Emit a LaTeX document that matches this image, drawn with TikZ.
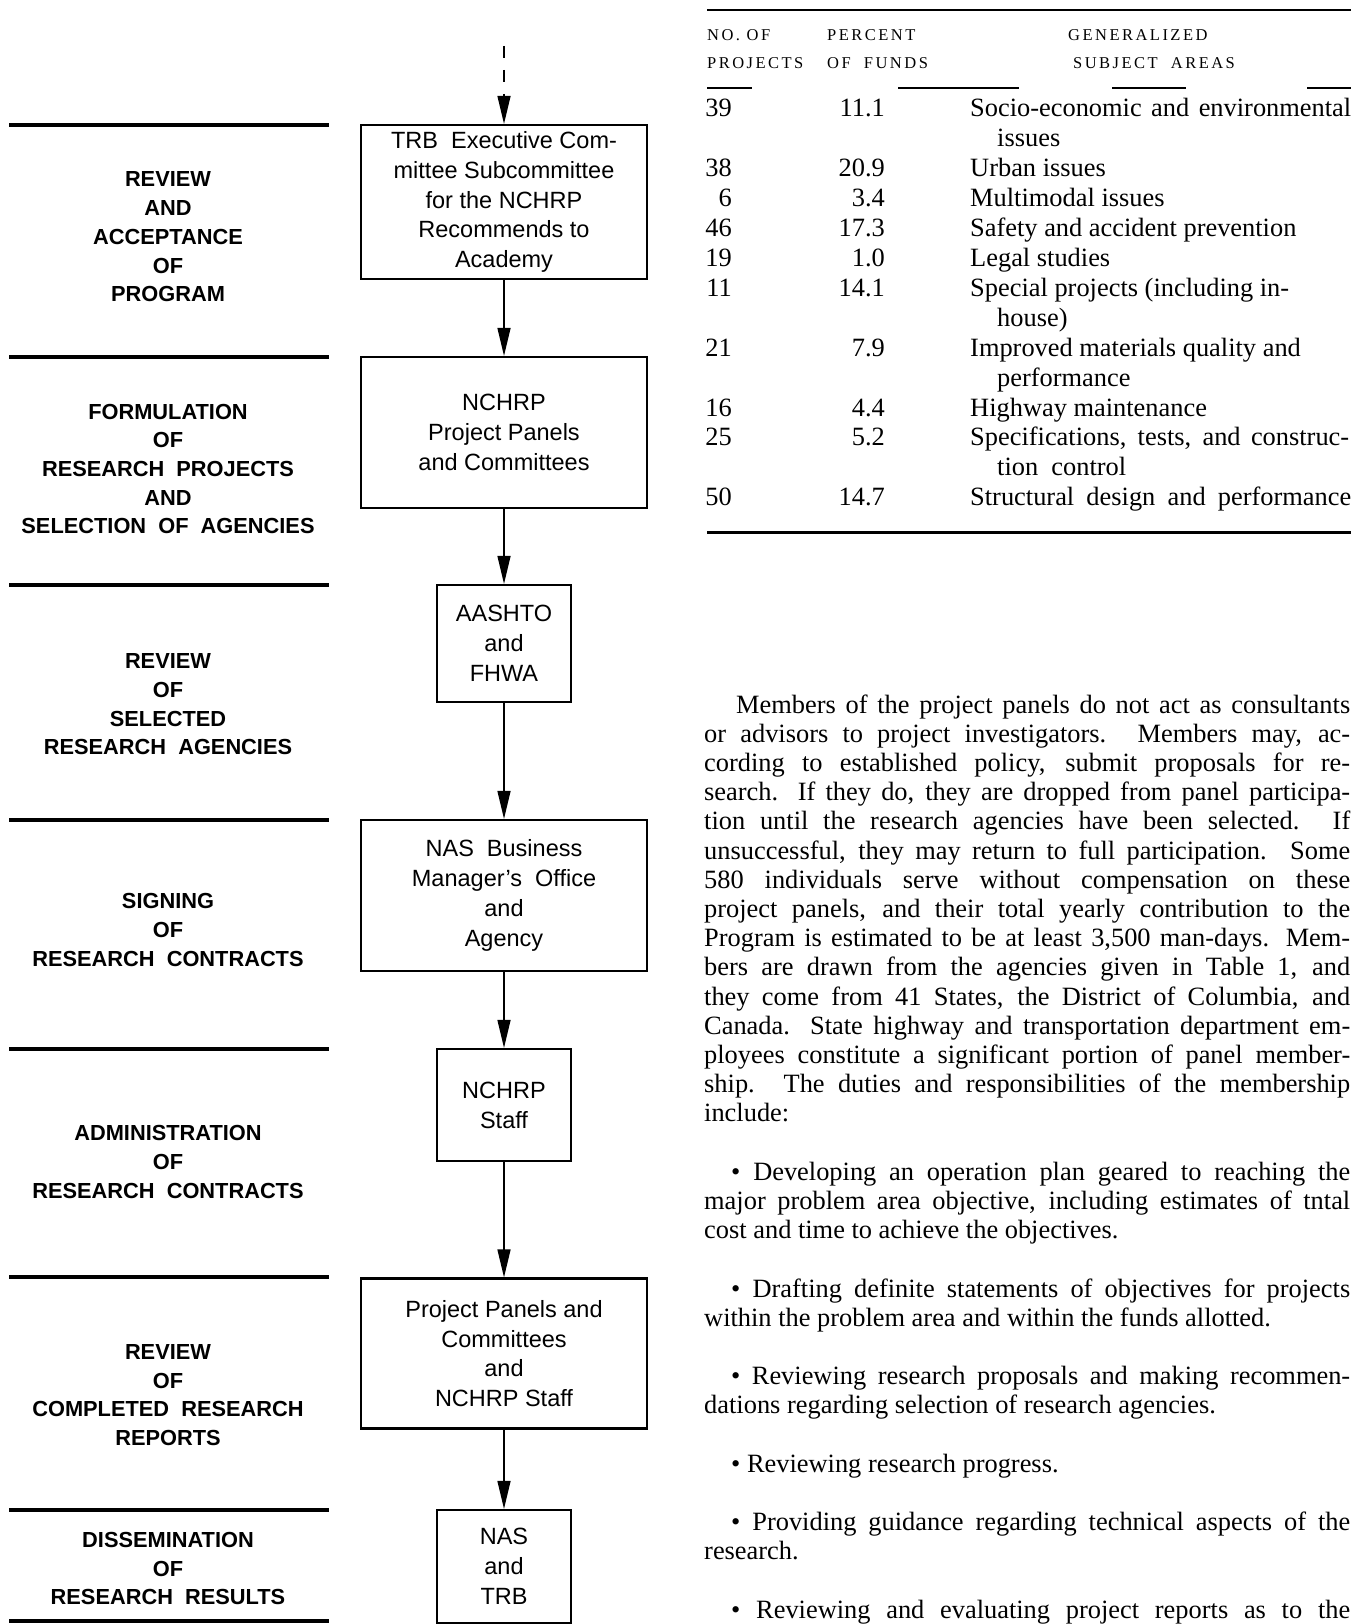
\documentclass[tikz,border=0pt]{standalone}
\usepackage{fontspec}
\setmainfont{Liberation Serif}
\setsansfont{Liberation Sans}
\newfontfamily\headfont[LetterSpace=15]{Liberation Serif}
\usetikzlibrary{arrows.meta}

\begin{document}
\begin{tikzpicture}[x=1pt,y=-1pt,
    stagebox/.style={draw,line width=2.2pt,align=center,inner sep=0pt,
      font=\sffamily\fontsize{23.5}{29.8}\selectfont},
    stagelabel/.style={align=center,inner sep=0pt,
      font=\sffamily\bfseries\fontsize{21.8}{28.7}\selectfont},
    flow/.style={line width=1.4pt,-{Triangle[length=28pt,width=13pt]}},
    bar/.style={line width=4.5pt},
    cell/.style={inner sep=0pt,font=\fontsize{26.4}{29.9}\selectfont},
    head/.style={inner sep=0pt,anchor=base west,font=\headfont\fontsize{16.5}{20}\selectfont}]
    \useasboundingbox (0,0) rectangle (1358,1624);

    \node[stagebox,minimum width=286pt,minimum height=154pt] (trb) at (504,202)
      {TRB\ \ Executive Com-\\mittee Subcommittee\\for the NCHRP\\Recommends to\\Academy};
    \node[stagebox,minimum width=286pt,minimum height=151pt] (panels) at (504,432.5)
      {NCHRP\\Project Panels\\and Committees};
    \node[stagebox,minimum width=134pt,minimum height=117pt] (aashto) at (504,643.5)
      {AASHTO\\and\\FHWA};
    \node[stagebox,minimum width=286pt,minimum height=151pt] (office) at (504,895.5)
      {NAS\ \ Business\\Manager's\ \ Office\\and\\Agency};
    \node[stagebox,minimum width=134pt,minimum height=112pt] (staff) at (504,1105)
      {NCHRP\\Staff};
    \node[stagebox,minimum width=286pt,minimum height=150pt] (review) at (504,1353.5)
      {Project Panels and\\Committees\\and\\NCHRP Staff};
    \node[stagebox,minimum width=134pt,minimum height=113pt] (nas) at (504,1566.5)
      {NAS\\and\\TRB};

    \coordinate (src) at (504,46);
    \draw[flow,dash pattern=on 12pt off 12pt] (src) -- (trb);
    \draw[flow] (trb) -- (panels);
    \draw[flow] (panels) -- (aashto);
    \draw[flow] (aashto) -- (office);
    \draw[flow] (office) -- (staff);
    \draw[flow] (staff) -- (review);
    \draw[flow] (review) -- (nas);

    \foreach \y in {125,357,585,820,1049,1277,1510,1621}
      \draw[bar] (9,\y) -- (329,\y);

    \node[stagelabel] (stage1) at (168,237) {REVIEW\\AND\\ACCEPTANCE\\OF\\PROGRAM};
    \node[stagelabel] (stage2) at (168,469)
      {FORMULATION\\OF\\RESEARCH\ \ PROJECTS\\AND\\SELECTION\ \ OF\ \ AGENCIES};
    \node[stagelabel] (stage3) at (168,704.5) {REVIEW\\OF\\SELECTED\\RESEARCH\ \ AGENCIES};
    \node[stagelabel] (stage4) at (168,930) {SIGNING\\OF\\RESEARCH\ \ CONTRACTS};
    \node[stagelabel] (stage5) at (168,1162) {ADMINISTRATION\\OF\\RESEARCH\ \ CONTRACTS};
    \node[stagelabel] (stage6) at (168,1395) {REVIEW\\OF\\COMPLETED\ \ RESEARCH\\REPORTS};
    \node[stagelabel] (stage7) at (168,1568.5) {DISSEMINATION\\OF\\RESEARCH\ \ RESULTS};

    \draw[line width=2.5pt] (707,10) -- (1351,10);
    \node[head] (nohead) at (707,41) {NO. OF};
    \node[head] (prjhead) at (707,69) {PROJECTS};
    \node[head] (pcthead) at (827,41) {PERCENT};
    \node[head] (fndhead) at (827,69) {OF\ \ FUNDS};
    \node[head] (genhead) at (1068,41) {GENERALIZED};
    \node[head] (subhead) at (1073,69) {SUBJECT\ \ AREAS};
    \draw[line width=1.4pt] (707,88) -- (752,88) (898,88) -- (1019,88)
      (1112,88) -- (1186,88) (1307,88) -- (1351,88);

    \foreach \i/\n/\p/\s in {0/39/11.1/{\makebox[381pt][s]{Socio-economic and environmental}},
        2/38/20.9/{Urban issues},3/6/3.4/{Multimodal issues},
        4/46/17.3/{Safety and accident prevention},5/19/1.0/{Legal studies},
        6/11/14.1/{Special projects (including in-},8/21/7.9/{Improved materials quality and},
        10/16/4.4/{Highway maintenance},
        11/25/5.2/{\makebox[379pt][s]{Specifications, tests, and construc-}},
        13/50/14.7/{\makebox[381pt][s]{Structural design and performance}}}{
      \node[cell,anchor=base east] (num\i) at (732,{117+29.9*\i}) {\n};
      \node[cell,anchor=base east] (pct\i) at (885,{117+29.9*\i}) {\p};
      \node[cell,anchor=base west] (area\i) at (970,{117+29.9*\i}) {\s};
    }
    \node[cell,anchor=base west] (area1) at (997,{117+29.9*1}) {issues};
    \node[cell,anchor=base west] (area7) at (997,{117+29.9*7}) {house)};
    \node[cell,anchor=base west] (area9) at (997,{117+29.9*9}) {performance};
    \node[cell,anchor=base west] (area12) at (997,{117+29.9*12}) {tion\ \ control};
    \draw[line width=3pt] (707,532) -- (1351,532);

    \node[anchor=base west,inner sep=0pt,text width=646pt,align=left,
      font=\fontsize{26.4}{29.2}\selectfont] (body) at (704,713) {%
      \spaceskip=0pt \xspaceskip=0pt
      \makebox[646pt][s]{\hspace*{32pt}Members of the project panels do not act as consultants}\\
      \makebox[646pt][s]{or advisors to project investigators. Members may, ac-}\\
      \makebox[646pt][s]{cording to established policy, submit proposals for re-}\\
      \makebox[646pt][s]{search. If they do, they are dropped from panel participa-}\\
      \makebox[646pt][s]{tion until the research agencies have been selected. If}\\
      \makebox[646pt][s]{unsuccessful, they may return to full participation. Some}\\
      \makebox[646pt][s]{580 individuals serve without compensation on these}\\
      \makebox[646pt][s]{project panels, and their total yearly contribution to the}\\
      \makebox[646pt][s]{Program is estimated to be at least 3,500 man-days. Mem-}\\
      \makebox[646pt][s]{bers are drawn from the agencies given in Table 1, and}\\
      \makebox[646pt][s]{they come from 41 States, the District of Columbia, and}\\
      \makebox[646pt][s]{Canada. State highway and transportation department em-}\\
      \makebox[646pt][s]{ployees constitute a significant portion of panel member-}\\
      \makebox[646pt][s]{ship. The duties and responsibilities of the membership}\\
      include:\\[29.2pt]
      \makebox[646pt][s]{\hspace*{27pt}\textbullet\ Developing an operation plan geared to reaching the}\\
      \makebox[646pt][s]{major problem area objective, including estimates of tntal}\\
      cost and time to achieve the objectives.\\[29.2pt]
      \makebox[646pt][s]{\hspace*{27pt}\textbullet\ Drafting definite statements of objectives for projects}\\
      within the problem area and within the funds allotted.\\[29.2pt]
      \makebox[646pt][s]{\hspace*{27pt}\textbullet\ Reviewing research proposals and making recommen-}\\
      dations regarding selection of research agencies.\\[29.2pt]
      \hspace*{27pt}\textbullet\ Reviewing research progress.\\[29.2pt]
      \makebox[646pt][s]{\hspace*{27pt}\textbullet\ Providing guidance regarding technical aspects of the}\\
      research.\\[29.2pt]
      \makebox[646pt][s]{\hspace*{27pt}\textbullet\ Reviewing and evaluating project reports as to the}};
\end{tikzpicture}
\end{document}
